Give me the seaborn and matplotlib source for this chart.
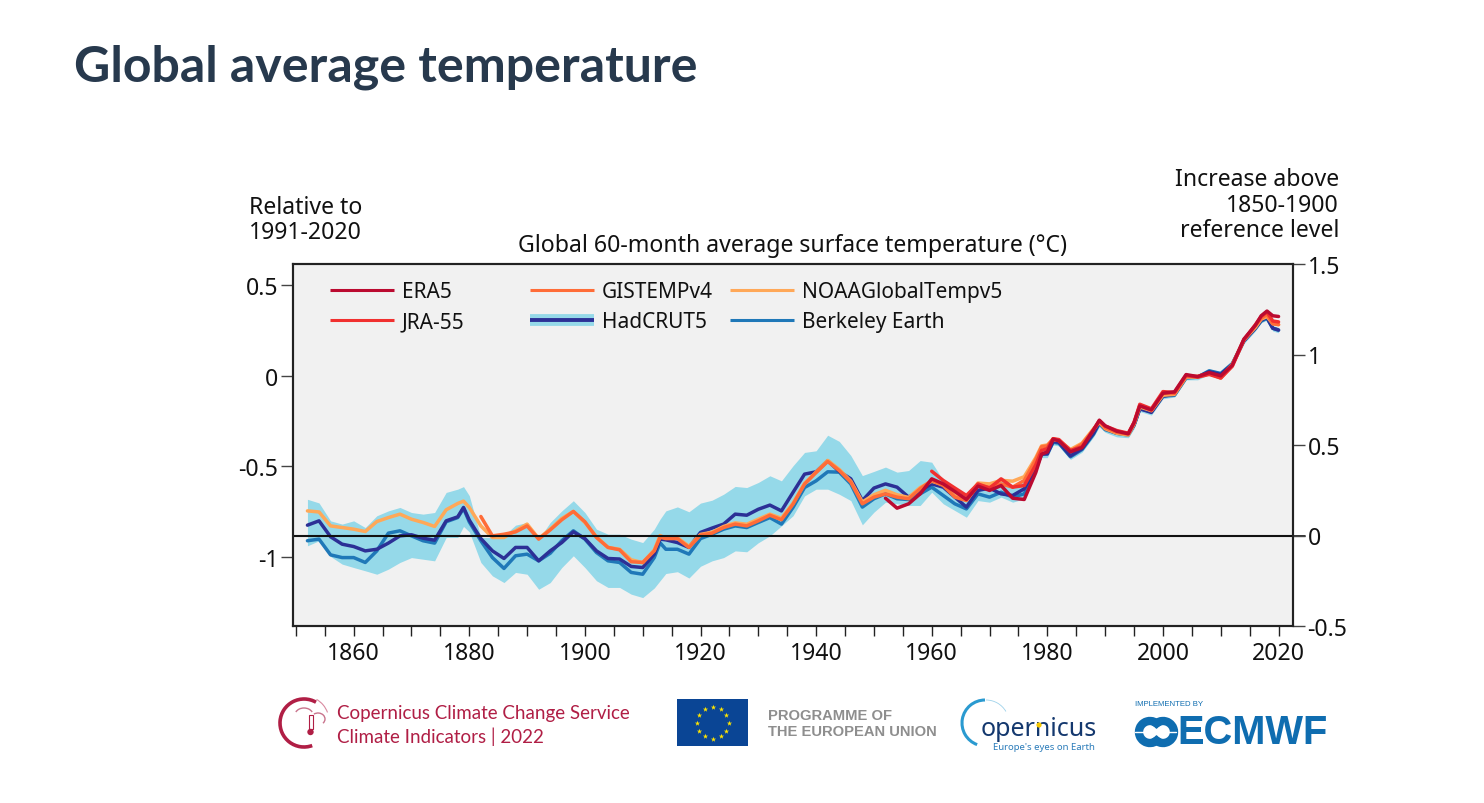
import numpy as np
import matplotlib
matplotlib.use("Agg")
import matplotlib.pyplot as plt
import seaborn as sns
from matplotlib.legend_handler import HandlerTuple
from matplotlib.lines import Line2D
from matplotlib.patches import Arc, Circle, Rectangle

# ======================
# data (all values in degC above 1850-1900)
# ======================
YEARS = (list(range(1852, 1880, 2)) + [1879, 1880] + list(range(1882, 1914, 2)) + [1913]
         + list(range(1914, 1978, 2))
         + [1978, 1979, 1980, 1981, 1982, 1984, 1986, 1988, 1989, 1990, 1992, 1994, 1995, 1996,
            1998, 2000, 2002, 2004, 2006, 2008, 2010, 2012, 2014, 2016, 2017, 2018, 2019, 2020])

ERA5 = [.206, .151, .175, .23, .313, .285, .243, .199, .273, .249, .276, .206, .199,
        .348, .449, .462, .532, .523, .462, .486, .584, .637, .606, .576, .562, .624, .716,
        .694, .786, .794, .889, .878, .9, .882, .941, 1.085, 1.162, 1.214, 1.24, 1.214, 1.21]
JRA55 = [.355, .304, .262, .221, .285, .262, .313, .267, .276,
         .39, .47, .48, .535, .53, .47, .49, .585, .635, .605, .58, .565, .625, .725,
         .70, .795, .79, .885, .875, .89, .87, .935, 1.08, 1.165, 1.21, 1.235, 1.185, 1.18]
GISTEMP = [.105, -.002, .007, .02, .053, -.02, .031, .087, .133, .076, -.011, -.066, -.079, -.145, -.149,
           -.085, -.01,
           -.017, -.017, -.066, .002, .013, .044, .063, .053, .081, .112, .087, .173, .284, .348, .409, .359,
           .295, .175, .212, .23, .212, .203, .258, .304, .276, .212, .193, .276, .267, .285, .267, .304,
           .42, .49, .495, .535, .525, .465, .505, .585, .63, .595, .57, .56, .62, .72,
           .69, .785, .785, .88, .88, .895, .87, .94, 1.08, 1.16, 1.2, 1.22, 1.17, 1.165]
NOAA = [.136, .13, .053, .044, .035, .022, .077, .099, .118, .09, .072, .05, .142, .177, .19, .155,
        .053, -.011, -.011, .026, .063, -.017, .035, .094, .133, .072, -.007, -.066, -.076, -.134, -.15,
        -.08, 0,
        -.015, -.012, -.06, .006, .018, .05, .07, .062, .09, .118, .095, .178, .288, .35, .415, .365,
        .30, .185, .225, .25, .225, .21, .265, .30, .28, .22, .2, .29, .285, .305, .30, .325,
        .43, .495, .5, .53, .525, .475, .51, .59, .625, .59, .565, .555, .615, .71,
        .69, .775, .78, .875, .875, .895, .875, .945, 1.08, 1.15, 1.195, 1.21, 1.17, 1.165]
HADCRUT = [.057, .081, -.007, -.048, -.061, -.085, -.076, -.042, -.002, .004, -.015, -.026, .081, .103, .155, .085,
           -.017, -.085, -.127, -.066, -.066, -.14, -.085, -.039, .02, -.017, -.085, -.127, -.13, -.171, -.177,
           -.103, -.02,
           -.024, -.039, -.066, .017, .041, .063, .118, .112, .145, .168, .136, .238, .339, .352, .413, .354,
           .313, .193, .262, .285, .267, .212, .249, .285, .267, .212, .157, .249, .262, .23, .221, .258,
           .37, .45, .45, .52, .515, .44, .48, .565, .625, .59, .565, .56, .61, .70,
           .68, .77, .78, .875, .875, .905, .89, .945, 1.075, 1.145, 1.19, 1.205, 1.145, 1.135]
BERKELEY = [-.029, -.02, -.107, -.122, -.122, -.149, -.085, .013, .026, -.002, -.029, -.042, .076, .099, .15, .075,
            -.029, -.122, -.182, -.112, -.103, -.14, -.098, -.029, .026, -.02, -.094, -.14, -.149, -.204, -.214,
            -.122, -.04,
            -.076, -.076, -.103, -.017, .007, .035, .053, .044, .072, .099, .063, .155, .265, .302, .352, .35,
            .285, .157, .203, .23, .203, .199, .23, .267, .221, .175, .147, .23, .212, .239, .212, .23,
            .37, .45, .455, .515, .51, .435, .475, .56, .62, .585, .565, .555, .61, .70,
            .685, .77, .775, .87, .875, .91, .895, .95, 1.075, 1.145, 1.185, 1.2, 1.145, 1.135]
HAD_UPPER = [.2, .18, .081, .063, .081, .044, .109, .136, .155, .127, .118, .127, .238, .256, .27, .22,
             -.011, -.011, 0, .057, .072, -.02, .072, .136, .192, .127, .035, .007, .007, -.02, -.039,
             .035, .09,
             .136, .158, .131, .179, .195, .228, .271, .265, .293, .33, .302, .385, .459, .468, .554, .52,
             .442, .331, .354, .378, .35, .359, .414, .405, .304, .258, .221, .285, .267, .313, .267, .313,
             .39, .47, .47, .535, .53, .455, .495, .58, .64, .605, .58, .575, .625, .715,
             .695, .785, .795, .89, .89, .92, .905, .96, 1.09, 1.16, 1.205, 1.22, 1.16, 1.15]
HAD_LOWER = [-.057, -.029, -.116, -.158, -.177, -.195, -.214, -.186, -.149, -.122, -.131, -.14, -.011, -.011, .05, .02,
             -.149, -.223, -.26, -.204, -.214, -.297, -.26, -.177, -.112, -.177, -.25, -.287, -.287, -.324, -.343,
             -.29, -.25,
             -.21, -.2, -.235, -.17, -.14, -.122, -.085, -.09, -.04, -.002, .053, .109, .219, .256, .256, .228,
             .193, .059, .129, .184, .175, .166, .166, .239, .175, .138, .101, .193, .184, .212, .184, .203,
             .345, .43, .43, .5, .495, .42, .46, .545, .6, .57, .545, .54, .59, .685,
             .665, .755, .765, .86, .86, .89, .875, .93, 1.06, 1.13, 1.175, 1.19, 1.13, 1.12]

LEFT_TICKS = [-1, -0.5, 0, 0.5]
LEFT_LABELS = ["-1", "-0.5", "0", "0.5"]
RIGHT_TICKS = [-0.5, 0, 0.5, 1, 1.5]
RIGHT_LABELS = ["-0.5", "0", "0.5", "1", "1.5"]
YEAR_LABELS = [1860, 1880, 1900, 1920, 1940, 1960, 1980, 2000, 2020]
OFFSET = 0.882  # 1991-2020 scale sits this far from the 1850-1900 scale

COLORS = {"ERA5": "#bb0a30", "JRA-55": "#f1302f", "GISTEMPv4": "#ff6c38",
          "NOAAGlobalTempv5": "#ffa858", "HadCRUT5": "#2c3096", "Berkeley Earth": "#1f78b8"}
BAND = "#95d9e9"
TEXT_SIZE = 16.6

# ======================
# figure
# ======================
sns.set_theme(style="white")
plt.rcParams["font.family"] = ["Noto Sans", "DejaVu Sans"]

W, H = 1484, 804
fig = plt.figure(figsize=(W / 100, H / 100), dpi=100, facecolor="white")
ax = fig.add_axes([293 / W, 1 - 627 / H, 1000 / W, 362 / H], facecolor="#f1f1f1")

years = np.array(YEARS)
ax.fill_between(years, HAD_LOWER, HAD_UPPER, color=BAND, linewidth=0)
# draw order as in the original: observations first, reanalyses on top
for name, values in [("Berkeley Earth", BERKELEY), ("HadCRUT5", HADCRUT), ("NOAAGlobalTempv5", NOAA),
                     ("GISTEMPv4", GISTEMP), ("JRA-55", JRA55), ("ERA5", ERA5)]:
    sns.lineplot(x=years[-len(values):], y=values, ax=ax, color=COLORS[name], linewidth=2.5,
                 estimator=None, sort=False, legend=False)

ax.set_xlim(1849.5, 2022.5)
ax.set_ylim(-0.5, 1.5)
ax.axhline(0, color="#111111", linewidth=1.5, zorder=5)
ax.plot([1, 1.012], [0.25, 0.25], transform=ax.transAxes, color="#111111", lw=1.2, clip_on=False)

ax.set_xticks(np.arange(1850, 2021, 5))
ax.set_xticklabels([str(y) if y in YEAR_LABELS else "" for y in range(1850, 2021, 5)])
ax.set_yticks([t + OFFSET for t in LEFT_TICKS])
ax.set_yticklabels(LEFT_LABELS)
ax.tick_params(axis="x", length=7, width=1, pad=4, labelsize=TEXT_SIZE, color="#222222", labelcolor="#111111", bottom=True)
ax.tick_params(axis="y", length=8.5, width=1, pad=2, labelsize=TEXT_SIZE, color="#444444", labelcolor="#111111", left=True)

axr = ax.twinx()
axr.set_ylim(-0.5, 1.5)
axr.set_yticks(RIGHT_TICKS)
axr.set_yticklabels(RIGHT_LABELS)
axr.tick_params(axis="y", length=8.5, width=1, pad=2, labelsize=TEXT_SIZE, color="#444444", labelcolor="#111111", right=True)
axr.grid(False)
ax.grid(False)
for a in (ax, axr):
    for s in a.spines.values():
        s.set_visible(True)
        s.set_color("#222222")
        s.set_linewidth(1.5)

# legend: one per column so the columns keep even spacing
def leg_line(name):
    return Line2D([], [], color=COLORS[name], linewidth=2.2, solid_capstyle="butt")

had_handle = (Line2D([], [], color=BAND, linewidth=8.5, solid_capstyle="butt"),
              Line2D([], [], color=COLORS["HadCRUT5"], linewidth=2.8, solid_capstyle="butt"))
columns = [(0.037, [leg_line("ERA5"), leg_line("JRA-55")], ["ERA5", "JRA-55"]),
           (0.237, [leg_line("GISTEMPv4"), had_handle], ["GISTEMPv4", "HadCRUT5"]),
           (0.437, [leg_line("NOAAGlobalTempv5"), leg_line("Berkeley Earth")], ["NOAAGlobalTempv5", "Berkeley Earth"])]
for x_anchor, col_handles, col_labels in columns:
    leg = axr.legend(col_handles, col_labels, loc="upper left", bbox_to_anchor=(x_anchor, 0.953), frameon=False,
                     fontsize=15, handlelength=3.07, handletextpad=0.38, labelspacing=0.45,
                     borderaxespad=0, borderpad=0, labelcolor="#111111",
                     handler_map={tuple: HandlerTuple(ndivide=1, pad=0)})
    axr.add_artist(leg)
axr.legend_ = None  # already added as artists, otherwise the last one is drawn twice

# ======================
# titles and footer, placed in pixels of the picture
# ======================
ov = fig.add_axes([0, 0, 1, 1], facecolor="none")
ov.set_xlim(0, W)
ov.set_ylim(H, 0)
ov.axis("off")
ov.text(74, 67, "Global average temperature", fontfamily="Lato", fontweight="bold", fontsize=36.1,
        color="#27394d", va="center", ha="left")
ov.text(793, 246, "Global 60-month average surface temperature (°C)", fontsize=TEXT_SIZE, color="#111111",
        ha="center", va="center")
ov.text(249, 220.5, "Relative to\n1991-2020", fontsize=TEXT_SIZE, color="#111111", ha="left", va="center", linespacing=1.08)
ov.text(1339, 205.5, "Increase above\n1850-1900\nreference level", fontsize=TEXT_SIZE, color="#111111",
        ha="right", va="center", linespacing=1.08)

# C3S badge
red = "#b01e45"
ov.add_patch(Arc((304, 724), 48, 48, theta1=70, theta2=300, color=red, lw=2.6))
ov.add_patch(Arc((304, 722), 50, 50, theta1=300, theta2=340, color="#d98aa0", lw=0.8))
ov.add_patch(Arc((304, 716), 18, 14, theta1=200, theta2=340, color="#c9738c", lw=1))
ov.add_patch(Arc((318, 720), 14, 12, theta1=230, theta2=400, color="#c9738c", lw=1))
ov.add_patch(Rectangle((308.5, 716), 4, 14, facecolor="white", edgecolor=red, lw=0.8))
ov.add_patch(Circle((310.5, 733), 3.2, facecolor=red, edgecolor="none"))
ov.text(337, 714, "Copernicus Climate Change Service", fontfamily="Lato", fontsize=13.5, color=red, va="center")
ov.text(337, 737, "Climate Indicators | 2022", fontfamily="Lato", fontsize=13.5, color=red, va="center")

# EU flag
ov.add_patch(Rectangle((677, 700), 71, 47, facecolor="#0a4595", edgecolor="none"))
angles = np.deg2rad(np.arange(0, 360, 30))
ov.scatter(712.5 + 16 * np.cos(angles), 723.5 + 16 * np.sin(angles), marker="*", s=16, color="#ffe500", linewidths=0)
ov.text(768, 716, "PROGRAMME OF", fontfamily="Liberation Sans", fontweight="bold", fontsize=10.65, color="#8e8e8e", va="center")
ov.text(768, 732, "THE EUROPEAN UNION", fontfamily="Liberation Sans", fontweight="bold", fontsize=10.65, color="#8e8e8e", va="center")

# Copernicus logo
ov.add_patch(Arc((985, 724), 46, 46, theta1=110, theta2=270, color="#2a9ad0", lw=2.2))
ov.add_patch(Arc((986, 724), 46, 46, theta1=270, theta2=330, color="#9ed2ea", lw=0.6))
ov.text(981, 736, "opernicus", fontsize=18, color="#14386e", va="baseline", ha="left")
ov.add_patch(Circle((1039, 726), 2.6, facecolor="#f6c800", edgecolor="none", zorder=4))
ov.text(1095, 748, "Europe's eyes on Earth", fontsize=6.9, color="#2b7cba", va="center", ha="right")

# ECMWF logo
blue = "#0f6db0"
ov.text(1135, 705, "IMPLEMENTED BY", fontfamily="Liberation Sans", fontsize=5.6, color=blue, va="center")
ov.add_patch(Arc((1150, 733), 22, 22, theta1=30, theta2=330, color=blue, lw=6))
ov.add_patch(Arc((1163, 733), 22, 22, theta1=-150, theta2=150, color=blue, lw=6))
ov.plot([1135, 1176], [733, 733], color="white", lw=1)
ov.text(1177, 733, "ECMWF", fontfamily="Liberation Sans", fontweight="bold", fontsize=28.7, color=blue, va="center")

fig.savefig("out.png", dpi=100)
